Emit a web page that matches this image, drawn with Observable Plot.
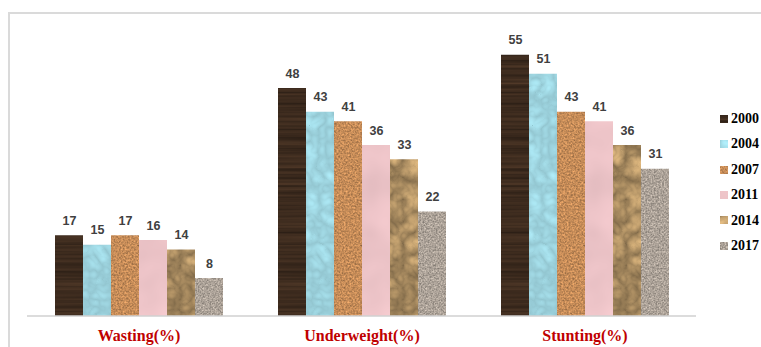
<!DOCTYPE html>
<html><head><meta charset="utf-8">
<script src="https://cdn.jsdelivr.net/npm/d3@7"></script>
<script src="https://cdn.jsdelivr.net/npm/@observablehq/plot@0.6"></script>
<style>
body{margin:0;background:#fff;overflow:hidden;}
#wrap{position:relative;width:761px;height:347px;overflow:hidden;}
#border{position:absolute;left:8px;top:12px;width:800px;height:400px;border-left:2px solid #dadada;border-top:2px solid #dadada;}
#chart{position:absolute;left:0;top:0;}
#legend{position:absolute;left:720px;top:0;font:bold 14px "Liberation Serif",serif;color:#000;}
#legend .item{position:absolute;left:0;white-space:nowrap;line-height:16px;height:16px;}
#legend svg{vertical-align:middle;margin-right:3px;position:relative;top:-1px;}
</style></head>
<body>
<svg width="0" height="0" style="position:absolute">
<defs id="defs"></defs>
</svg>
<div id="wrap"><div id="border"></div><div id="chart"></div><div id="legend"></div></div>
<script>
const categories = ["Wasting(%)", "Underweight(%)", "Stunting(%)"];
const years = ["2000", "2004", "2007", "2011", "2014", "2017"];
const s2000 = [17, 48, 55];
const s2004 = [15, 43, 51];
const s2007 = [17, 41, 43];
const s2011 = [16, 36, 41];
const s2014 = [14, 33, 36];
const s2017 = [8, 22, 31];
const series = [s2000, s2004, s2007, s2011, s2014, s2017];

// texture styles (wood, water, cork, pink marble, crumpled paper, granite)
const textures = [
  {base: "#3d2b1e", type: "fractalNoise", freq: "0.004 0.35", oct: 3, k: 0.9, seed: 2},
  {base: "#a8e2ee", type: "turbulence", freq: "0.07", oct: 2, k: 0.25, seed: 5},
  {base: "#c68c58", type: "fractalNoise", freq: "0.55", oct: 2, k: 0.75, seed: 7},
  {base: "#edc4c8", type: "fractalNoise", freq: "0.03", oct: 2, k: 0.1, seed: 3},
  {base: "#c8a572", type: "turbulence", freq: "0.045", oct: 3, k: 0.7, seed: 9},
  {base: "#aca298", type: "fractalNoise", freq: "0.6", oct: 2, k: 0.8, seed: 4}
];
const defs = d3.select("#defs");
textures.forEach((t, i) => {
  const c = d3.rgb(t.base);
  const ch = [c.r / 255, c.g / 255, c.b / 255];
  const rows = ch.map(v => `${t.k * v} 0 0 0 ${v * (1 - t.k / 2)}`).join(" ") + " 0 0 0 0 1";
  const f = defs.append("filter").attr("id", "f" + i).attr("x", 0).attr("y", 0).attr("width", 1).attr("height", 1)
    .attr("color-interpolation-filters", "sRGB");
  f.append("feTurbulence").attr("type", t.type).attr("baseFrequency", t.freq).attr("numOctaves", t.oct).attr("seed", t.seed);
  f.append("feColorMatrix").attr("type", "matrix").attr("values", rows);
  const p = defs.append("pattern").attr("id", "p" + i).attr("patternUnits", "userSpaceOnUse")
    .attr("width", 240).attr("height", 347);
  p.append("rect").attr("width", 240).attr("height", 347).attr("fill", t.base).attr("filter", `url(#f${i})`);
});
const fills = years.map((y, i) => `url(#p${i})`);

const rows = years.flatMap((yr, i) => categories.map((c, j) => ({category: c, year: yr, value: series[i][j]})));

const plot = Plot.plot({
  width: 761,
  height: 347,
  marginLeft: 27,
  marginRight: 65,
  marginTop: 31,
  marginBottom: 31,
  style: {background: "transparent", overflow: "visible"},
  fx: {domain: categories, paddingInner: 0.225, paddingOuter: 0.1125, label: null},
  x: {domain: years, padding: 0, axis: null},
  y: {domain: [0, 60], axis: null},
  color: {domain: years, range: fills},
  marks: [
    Plot.barY(rows, {fx: "category", x: "year", y: "value", fill: "year"}),
    Plot.text(rows, {fx: "category", x: "year", y: "value", text: d => String(d.value), dy: -11, lineAnchor: "bottom",
      fill: "#404040", fontWeight: "bold", fontSize: 12.5, fontFamily: "Liberation Sans, sans-serif"}),
    Plot.axisFx({anchor: "bottom", tickSize: 0, tickPadding: 13, label: null, fill: "#c00000", fontSize: 16, fontWeight: "bold",
      fontFamily: "Liberation Serif, serif"})
  ]
});
document.getElementById("chart").appendChild(plot);

// baseline across the whole category band range
const fxs = plot.scale("fx");
const ys = plot.scale("y");
const y0 = ys.apply(0);
d3.select(plot).append("line")
  .attr("x1", fxs.range[0]).attr("x2", fxs.range[1])
  .attr("y1", y0).attr("y2", y0)
  .attr("stroke", "#d0d0d0").attr("stroke-width", 1.5);

// legend
const leg = d3.select("#legend");
years.forEach((yr, i) => {
  const it = leg.append("div").attr("class", "item").style("top", (111 + i * 25.4) + "px");
  const s = it.append("svg").attr("width", 8).attr("height", 8);
  s.append("rect").attr("width", 8).attr("height", 8).attr("fill", fills[i]);
  it.append("span").text(yr);
});
</script>
</body></html>
